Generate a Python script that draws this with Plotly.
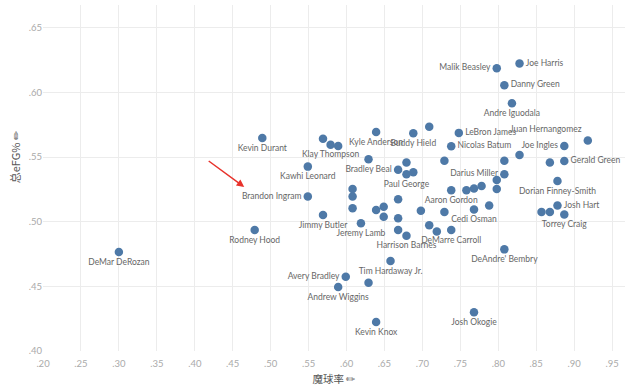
import plotly.graph_objects as go

# ---- data ----
players = [
    "DeMar DeRozan", "Rodney Hood", "Kevin Durant", "", "Klay Thompson", "",
    "Kyle Anderson", "Buddy Hield", "", "Kawhi Leonard", "Bradley Beal", "",
    "", "Paul George", "", "", "Brandon Ingram", "", "", "",
    "Jimmy Butler", "", "", "", "", "", "Jeremy Lamb", "", "Harrison Barnes",
    "", "", "", "", "DeMarre Carroll", "Tim Hardaway Jr.", "Avery Bradley",
    "Andrew Wiggins", "", "Kevin Knox", "Josh Okogie", "DeAndre' Bembry",
    "Malik Beasley", "Joe Harris", "Danny Green", "Andre Iguodala",
    "LeBron James", "Nicolas Batum", "Juan Hernangomez", "Joe Ingles",
    "Gerald Green", "", "", "", "Darius Miller", "", "", "", "", "",
    "Aaron Gordon", "Dorian Finney-Smith", "", "Cedi Osman", "Josh Hart",
    "", "", "Torrey Craig",
]
magic_rate = [
    0.300, 0.479, 0.489, 0.569, 0.579, 0.589,
    0.639, 0.688, 0.709, 0.549, 0.629, 0.679,
    0.668, 0.679, 0.688, 0.729, 0.549, 0.608, 0.608, 0.608,
    0.569, 0.639, 0.649, 0.649, 0.668, 0.668, 0.619, 0.668, 0.679,
    0.698, 0.729, 0.709, 0.719, 0.738, 0.658, 0.599,
    0.589, 0.629, 0.639, 0.768, 0.808,
    0.798, 0.828, 0.808, 0.818,
    0.748, 0.738, 0.918, 0.887,
    0.887, 0.868, 0.828, 0.808, 0.808, 0.798, 0.798, 0.778, 0.768, 0.758,
    0.738, 0.878, 0.788, 0.768, 0.878,
    0.857, 0.868, 0.887,
]
efg = [
    0.4765, 0.4936, 0.5648, 0.5642, 0.5596, 0.5586,
    0.5694, 0.5684, 0.5735, 0.5426, 0.5483, 0.5457,
    0.5402, 0.5367, 0.5382, 0.5472, 0.5195, 0.5253, 0.5195, 0.5104,
    0.5052, 0.5091, 0.5116, 0.5038, 0.5174, 0.5026, 0.4988, 0.4936, 0.4892,
    0.5085, 0.5075, 0.4973, 0.4924, 0.4936, 0.4696, 0.4574,
    0.4495, 0.4528, 0.4224, 0.4299, 0.4786,
    0.6187, 0.6223, 0.6056, 0.5916,
    0.5687, 0.5584, 0.5628, 0.5586,
    0.5470, 0.5457, 0.5516, 0.5472, 0.5367, 0.5323, 0.5253, 0.5276, 0.5257, 0.5244,
    0.5244, 0.5315, 0.5125, 0.5094, 0.5125,
    0.5075, 0.5075, 0.5056,
]
x_ticks = [0.20, 0.25, 0.30, 0.35, 0.40, 0.45, 0.50, 0.55, 0.60, 0.65, 0.70, 0.75, 0.80, 0.85, 0.90, 0.95]
x_tick_labels = [".20", ".25", ".30", ".35", ".40", ".45", ".50", ".55", ".60", ".65", ".70", ".75", ".80", ".85", ".90", ".95"]
y_ticks = [0.40, 0.45, 0.50, 0.55, 0.60, 0.65]
y_tick_labels = [".40", ".45", ".50", ".55", ".60", ".65"]
x_title = "魔球率 ✏"
y_title = "总eFG% ✏"

# ---- label placement (style) ----
special_pos = {
    "Brandon Ingram": "middle left",
    "Avery Bradley": "middle left",
    "Malik Beasley": "middle left",
    "Joe Harris": "middle right",
    "Danny Green": "middle right",
    "LeBron James": "middle right",
    "Nicolas Batum": "middle right",
    "Juan Hernangomez": "top left",
    "Joe Ingles": "middle left",
    "Gerald Green": "middle right",
    "Darius Miller": "middle left",
    "Josh Hart": "middle right",
}
label_pos = [special_pos.get(n, "bottom center") for n in players]

fig = go.Figure()
fig.add_trace(go.Scatter(
    x=magic_rate, y=efg, mode="markers+text",
    text=players, textposition=label_pos,
    textfont=dict(family="Lato, sans-serif", size=8.5, color="#666666"),
    marker=dict(size=8.5, color="#4e79a7", line=dict(width=0)),
    hoverinfo="text", cliponaxis=False,
))

fig.add_annotation(
    x=0.4652, y=0.5269, ax=0.4164, ay=0.5478,
    xref="x", yref="y", axref="x", ayref="y",
    showarrow=True, arrowhead=2, arrowsize=1, arrowwidth=1.5,
    arrowcolor="#e8322b", text="",
)

# y-axis title placed like the reference (left, slightly above centre)
fig.add_annotation(
    text=y_title, textangle=-90, showarrow=False,
    xref="paper", yref="paper", x=-0.048, y=0.56,
    xanchor="center", yanchor="middle",
    font=dict(family="Noto Sans CJK SC, sans-serif", size=11, color="#555555"),
)

axis_common = dict(
    showgrid=True, gridcolor="#ececec", gridwidth=1,
    zeroline=False, showline=False, ticks="", automargin=False,
    tickfont=dict(family="Lato, sans-serif", size=9.5, color="#aaaaaa"),
)

fig.update_layout(
    width=640, height=386,
    margin=dict(l=43, r=15, t=5, b=35),
    paper_bgcolor="white", plot_bgcolor="white",
    showlegend=False,
    xaxis=dict(
        range=[0.20, 0.967], tickvals=x_ticks, ticktext=x_tick_labels,
        ticklabelstandoff=5,
        title=dict(text=x_title,
                   font=dict(family="Noto Sans CJK SC, sans-serif", size=10.5, color="#555555")),
        **axis_common,
    ),
    yaxis=dict(
        range=[0.40, 0.6676], tickvals=y_ticks, ticktext=y_tick_labels,
        **axis_common,
    ),
)

fig.write_html("out.html", config={"displayModeBar": False},
               post_script="document.body.style.margin='0';")
